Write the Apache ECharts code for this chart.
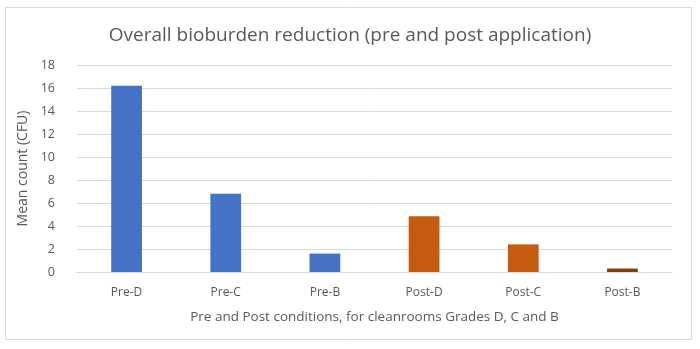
<!DOCTYPE html>
<html><head><meta charset="utf-8">
<script src="https://cdn.jsdelivr.net/npm/echarts@6/dist/echarts.min.js"></script>
<style>html,body{margin:0;padding:0;background:#fff}#c{width:700px;height:349px}</style>
</head><body><div id="c"></div>
<script>
var categories = ['Pre-D','Pre-C','Pre-B','Post-D','Post-C','Post-B'];
var values = [16.2, 6.8, 1.6, 4.85, 2.4, 0.3];
var barColors = ['#4472C4','#4472C4','#4472C4','#C55A11','#C55A11','#843C0C'];
var yTicks = {min:0, max:18, interval:2};
var chart = echarts.init(document.getElementById('c'));
chart.setOption({
  backgroundColor:'#fff',
  animation:false,
  graphic:[{type:'rect',shape:{x:5.5,y:7.5,width:686,height:332},style:{fill:'none',stroke:'#d9d9d9',lineWidth:1},z:-1}],
  title:{text:'Overall bioburden reduction (pre and post application)',left:'center',top:21,
    textStyle:{fontFamily:'Open Sans',fontWeight:'normal',fontSize:19,color:'#595959'}},
  grid:{left:77,right:28,top:65,bottom:77},
  xAxis:{type:'category',data:categories,
    axisLine:{lineStyle:{color:'#d9d9d9'}},axisTick:{show:false},
    axisLabel:{color:'#595959',fontFamily:'Open Sans',fontSize:12,margin:15},
    name:'Pre and Post conditions, for cleanrooms Grades D, C and B',nameLocation:'middle',nameGap:38,
    nameTextStyle:{color:'#595959',fontFamily:'Open Sans',fontSize:13.5}},
  yAxis:{type:'value',min:yTicks.min,max:yTicks.max,interval:yTicks.interval,
    axisLabel:{color:'#595959',fontFamily:'Open Sans',fontSize:12.5,margin:22},
    splitLine:{lineStyle:{color:'#d9d9d9'}},axisLine:{show:false},axisTick:{show:false},
    name:'Mean count (CFU)',nameLocation:'middle',nameGap:45,
    nameTextStyle:{color:'#595959',fontFamily:'Open Sans',fontSize:14}},
  series:[{type:'bar',barWidth:'31%',
    data:values.map(function(v,i){return {value:v,itemStyle:{color:barColors[i]}};})}]
});
</script></body></html>
